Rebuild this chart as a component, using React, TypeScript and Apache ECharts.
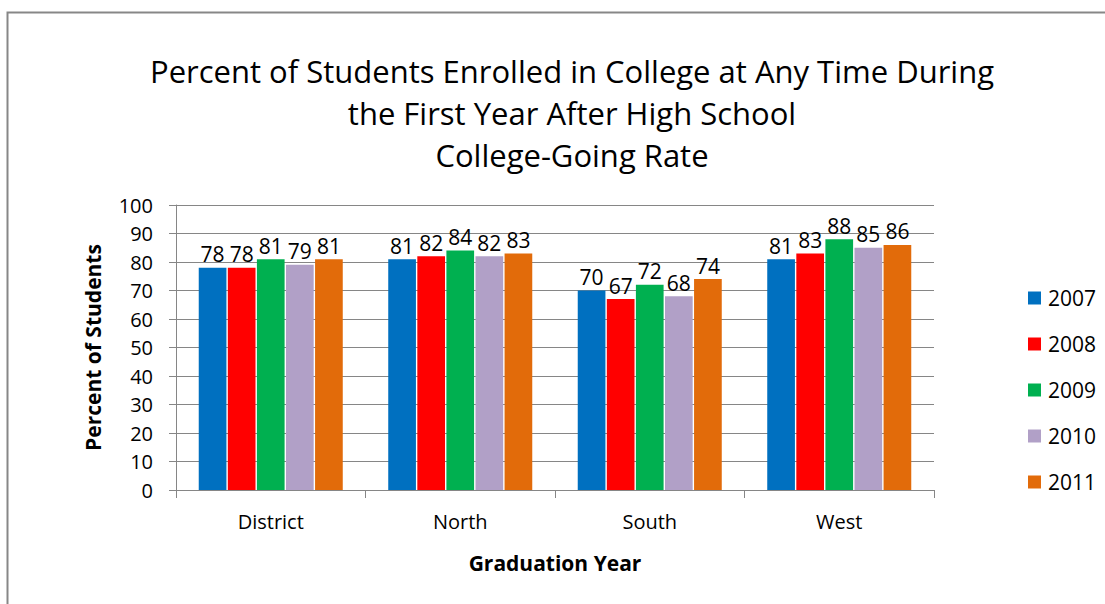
import React, { useEffect, useRef } from "react";
import * as echarts from "echarts";

const categories = ["District", "North", "South", "West"];
const years = ["2007", "2008", "2009", "2010", "2011"];
const values2007 = [78, 81, 70, 81];
const values2008 = [78, 82, 67, 83];
const values2009 = [81, 84, 72, 88];
const values2010 = [79, 82, 68, 85];
const values2011 = [81, 83, 74, 86];
const colors = ["#0070C0", "#FF0000", "#00B050", "#B1A0C7", "#E26B0A"];
const yTicks = { min: 0, max: 100, interval: 10 };

const FONT = "'Open Sans', 'Noto Sans', sans-serif";

export default function App() {
  const ref = useRef<HTMLDivElement>(null);
  useEffect(() => {
    document.body.style.margin = "0";
    const chart = echarts.init(ref.current!, null, { renderer: "svg" });
    const seriesData = [values2007, values2008, values2009, values2010, values2011];
    chart.setOption({
      animation: false,
      backgroundColor: "#fff",
      textStyle: { fontFamily: FONT },
      title: {
        text: "Percent of Students Enrolled in College at Any Time During\nthe First Year After High School\nCollege-Going Rate",
        left: 567,
        top: 45,
        textAlign: "center",
        textStyle: { fontFamily: FONT, fontSize: 31, fontWeight: "normal", color: "#000", lineHeight: 42 },
      },
      legend: {
        orient: "vertical",
        left: 1023,
        top: 280,
        itemWidth: 13,
        itemHeight: 13,
        itemGap: 20,
        icon: "rect",
        textStyle: { fontFamily: FONT, fontSize: 21, color: "#000", lineHeight: 26, padding: [0, 0, 0, 2] },
        data: years,
      },
      graphic: [
        {
          type: "rect",
          shape: { x: 7.5, y: 12.5, width: 1300, height: 800 },
          style: { fill: "none", stroke: "#878787", lineWidth: 2 },
          silent: true,
        },
      ],
      grid: { left: 176, right: 171, top: 205, bottom: 114, containLabel: false },
      xAxis: {
        type: "category",
        data: categories,
        name: "Graduation Year",
        nameLocation: "middle",
        nameGap: 62,
        nameTextStyle: { fontFamily: FONT, fontSize: 21, fontWeight: "bold", color: "#000" },
        axisLine: { lineStyle: { color: "#868686" } },
        axisTick: { show: true, length: 8, lineStyle: { color: "#868686" } },
        axisLabel: { fontFamily: FONT, fontSize: 20, color: "#000", margin: 21 },
      },
      yAxis: {
        type: "value",
        min: yTicks.min,
        max: yTicks.max,
        interval: yTicks.interval,
        name: "Percent of Students",
        nameLocation: "middle",
        nameGap: 73,
        nameTextStyle: { fontFamily: FONT, fontSize: 21, fontWeight: "bold", color: "#000" },
        axisLine: { show: true, lineStyle: { color: "#868686" } },
        axisTick: { show: true, length: 7, lineStyle: { color: "#868686" } },
        axisLabel: { fontFamily: FONT, fontSize: 20, color: "#000", margin: 23 },
        splitLine: { lineStyle: { color: "#868686" } },
      },
      series: years.map((y, i) => ({
        name: y,
        type: "bar",
        data: seriesData[i],
        barGap: "5%",
        barCategoryGap: "24%",
        itemStyle: { color: colors[i] },
        label: {
          show: true,
          position: "top",
          distance: 3,
          fontFamily: FONT,
          fontSize: 21,
          color: "#000",
        },
      })),
    });
    return () => chart.dispose();
  }, []);
  return <div ref={ref} style={{ width: 1105, height: 604 }} />;
}
